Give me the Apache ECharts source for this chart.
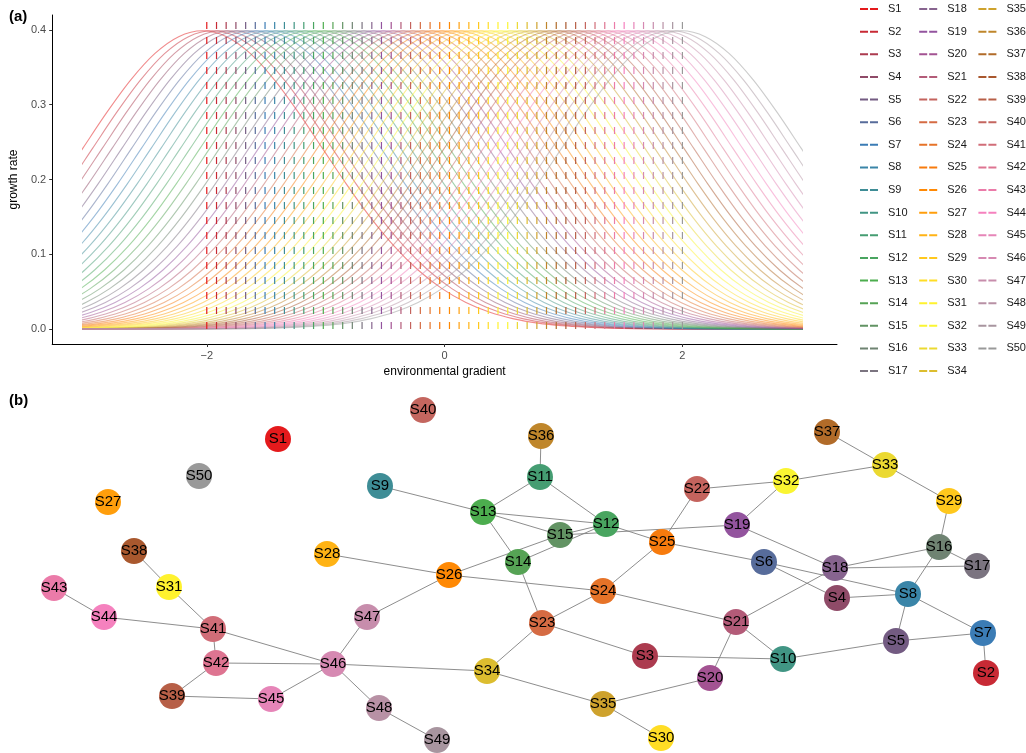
<!DOCTYPE html>
<html>
<head>
<meta charset="utf-8">
<script src="https://cdn.jsdelivr.net/npm/echarts@6/dist/echarts.min.js"></script>
<style>
html, body { margin: 0; padding: 0; background: #fff; }
#chart { width: 1026px; height: 753px; }
</style>
</head>
<body>
<div id="chart"></div>
<script>
// species names
const species = ['S1','S2','S3','S4','S5','S6','S7','S8','S9','S10',
  'S11','S12','S13','S14','S15','S16','S17','S18','S19','S20',
  'S21','S22','S23','S24','S25','S26','S27','S28','S29','S30',
  'S31','S32','S33','S34','S35','S36','S37','S38','S39','S40',
  'S41','S42','S43','S44','S45','S46','S47','S48','S49','S50'];

// optimum of each species along the gradient (dashed lines)
const optima = [-2.000, -1.918, -1.837, -1.755, -1.673, -1.592, -1.510, -1.429, -1.347, -1.265,
  -1.184, -1.102, -1.020, -0.939, -0.857, -0.776, -0.694, -0.612, -0.531, -0.449,
  -0.367, -0.286, -0.204, -0.122, -0.041, 0.041, 0.122, 0.204, 0.286, 0.367,
  0.449, 0.531, 0.612, 0.694, 0.776, 0.857, 0.939, 1.020, 1.102, 1.184,
  1.265, 1.347, 1.429, 1.510, 1.592, 1.673, 1.755, 1.837, 1.918, 2.000];

// growth rate, by distance from the optimum
const profileDist  = [0, 0.2, 0.4, 0.6, 0.8, 1.0, 1.2, 1.4, 1.6, 1.8, 2.0, 2.2, 2.4,
  2.6, 2.8, 3.0, 3.2, 3.4, 3.6, 3.8, 4.0, 4.4, 4.8, 5.2];
const profileValue = [0.3989, 0.3910, 0.3683, 0.3332, 0.2897, 0.2420, 0.1942, 0.1497, 0.1109,
  0.0790, 0.0540, 0.0355, 0.0224, 0.0136, 0.0079, 0.0044, 0.0024, 0.0012, 0.0006,
  0.0003, 0.0001, 0.0000, 0.0000, 0.0000];

// network layout (b): node positions in layout units
const nodeX = [278, 986, 645, 837, 896, 764, 983, 908, 380, 783,
  540, 606, 483, 518, 560, 939, 977, 835, 737, 710,
  736, 697, 542, 603, 662, 449, 108, 327, 949, 661,
  169, 786, 885, 487, 603, 541, 827, 134, 172, 423,
  213, 216, 54, 104, 271, 333, 367, 379, 437, 199];
const nodeY = [314, 80, 97, 155, 112, 191, 120, 159, 267, 94,
  276, 229, 241, 191, 218, 206, 187, 185, 228, 75,
  131, 264, 130, 162, 211, 178, 251, 199, 252, 15,
  166, 272, 288, 82, 49, 317, 321, 202, 57, 343,
  124, 90, 165, 136, 54, 89, 136, 45, 13, 277];

const edges = [
  ['S38','S31'], ['S31','S41'], ['S43','S44'], ['S44','S41'], ['S41','S42'], ['S41','S46'],
  ['S42','S46'], ['S42','S39'], ['S39','S45'], ['S45','S46'], ['S46','S47'], ['S46','S34'],
  ['S46','S48'], ['S48','S49'], ['S47','S26'], ['S28','S26'], ['S26','S15'], ['S26','S24'],
  ['S14','S13'], ['S14','S23'], ['S14','S12'], ['S11','S36'], ['S11','S13'], ['S11','S12'],
  ['S9','S13'], ['S13','S12'], ['S13','S15'], ['S15','S12'], ['S15','S19'], ['S12','S25'],
  ['S25','S22'], ['S25','S24'], ['S25','S6'], ['S22','S32'], ['S32','S19'], ['S32','S33'],
  ['S33','S37'], ['S33','S29'], ['S29','S16'], ['S19','S18'], ['S16','S18'], ['S16','S17'],
  ['S18','S17'], ['S16','S8'], ['S6','S8'], ['S6','S4'], ['S21','S18'], ['S21','S24'],
  ['S21','S10'], ['S21','S20'], ['S20','S35'], ['S3','S10'], ['S23','S3'], ['S23','S24'],
  ['S23','S34'], ['S34','S35'], ['S35','S30'], ['S4','S8'], ['S8','S5'], ['S8','S7'],
  ['S5','S7'], ['S5','S10'], ['S7','S2']
];

// Set1 ramp, 50 steps
const colors = ['#E41A1C','#C82A35','#AC3B4F','#8F4B68','#735B82','#576C9B','#3B7CB5','#3A85A8','#3E8D96','#419584',
  '#459D72','#49A560','#4CAD4E','#56A355','#629363','#6F8372','#7B7480','#87648F','#93549E','#A35392',
  '#B35B78','#C4635D','#D56B43','#E67328','#F77B0D','#FF8904','#FF9E0C','#FFB315','#FFC81D','#FFDD25',
  '#FFF22E','#FAF532','#EBD931','#DCBD2F','#CEA22D','#BF862B','#B16B29','#A9582E','#B75F47','#C4665F',
  '#D16D78','#DE7491','#EB7BA9','#F581BE','#E685B8','#D689B2','#C78DAC','#B891A5','#A8959F','#999999'];

const FONT = '"Liberation Sans", Arial, sans-serif';
const chart = echarts.init(document.getElementById('chart'));

const curveSeries = species.map((name, i) => {
  const pts = [];
  for (let k = profileDist.length - 1; k > 0; k--) pts.push([optima[i] - profileDist[k], profileValue[k]]);
  for (let k = 0; k < profileDist.length; k++) pts.push([optima[i] + profileDist[k], profileValue[k]]);
  return {
    name, type: 'line', xAxisIndex: 1, yAxisIndex: 1, data: pts,
    smooth: 0.3, symbol: 'none', clip: true, silent: true, animation: false,
    color: colors[i], lineStyle: { width: 1.1, opacity: 0.5 }, z: 2
  };
});

const vlineSeries = species.map((name, i) => ({
  name, type: 'line', xAxisIndex: 0, yAxisIndex: 0,
  data: [[optima[i], 0], [optima[i], 0.42]],
  symbol: 'none', silent: true, animation: false,
  color: colors[i], lineStyle: { width: 1.2, type: [7, 8] }, z: 3
}));

const graphSeries = {
  type: 'graph', coordinateSystem: 'cartesian2d', xAxisIndex: 2, yAxisIndex: 2,
  layout: 'none', silent: true, animation: false,
  data: species.map((name, i) => ({ name, value: [nodeX[i], nodeY[i]], itemStyle: { color: colors[i] } })),
  links: edges.map(([s, t]) => ({ source: s, target: t })),
  symbolSize: 26,
  label: { show: true, position: 'inside', color: '#000', fontSize: 15, fontFamily: FONT },
  lineStyle: { color: '#808080', width: 0.9, opacity: 1, curveness: 0 },
  z: 4
};

const option = {
  backgroundColor: '#fff',
  animation: false,
  title: [
    { text: '(a)', left: 9, top: 9, padding: 0, textStyle: { fontSize: 15, fontWeight: 'bold', color: '#000', fontFamily: FONT } },
    { text: '(b)', left: 9, top: 393, padding: 0, textStyle: { fontSize: 15, fontWeight: 'bold', color: '#000', fontFamily: FONT } }
  ],
  legend: {
    data: species.map(name => ({ name, icon: 'path://M0 0H8V2H0Z M10 0H18V2H10Z' })),
    orient: 'vertical', left: 860, top: 2, height: 380,
    itemWidth: 18, itemHeight: 2, itemGap: 8.63, padding: 0,
    selectedMode: false,
    textStyle: { fontSize: 11, color: '#1a1a1a', fontFamily: FONT, lineHeight: 14, padding: [0, 3, 0, 5] }
  },
  grid: [
    { left: 47, top: 15, width: 790, height: 329 },
    { left: 82.9, top: 15, width: 718.2, height: 329 },
    { left: 0, top: 395, width: 1026, height: 358 }
  ],
  xAxis: [
    {
      gridIndex: 0, type: 'value', min: -3.3, max: 3.3,
      name: 'environmental gradient', nameLocation: 'middle', nameGap: 22,
      nameTextStyle: { fontSize: 12, color: '#000', fontFamily: FONT },
      axisLine: { onZero: false, lineStyle: { color: '#000', width: 1 } },
      axisTick: { customValues: [-2, 0, 2], length: 3, lineStyle: { color: '#333' } },
      axisLabel: {
        customValues: [-2, 0, 2], margin: 6, color: '#4d4d4d', fontSize: 11, fontFamily: FONT,
        formatter: v => (v < 0 ? '\u2212' + Math.abs(v) : String(v))
      },
      splitLine: { show: false }
    },
    { gridIndex: 1, type: 'value', min: -3, max: 3, show: false },
    { gridIndex: 2, type: 'value', min: 0, max: 1026, show: false }
  ],
  yAxis: [
    {
      gridIndex: 0, type: 'value', min: -0.02, max: 0.42,
      name: 'growth rate', nameLocation: 'middle', nameGap: 30, nameRotate: 90,
      nameTextStyle: { fontSize: 12, color: '#000', fontFamily: FONT },
      axisLine: { show: true, onZero: false, lineStyle: { color: '#000', width: 1 } },
      axisTick: { show: true, customValues: [0, 0.1, 0.2, 0.3, 0.4], length: 3, lineStyle: { color: '#333' } },
      axisLabel: {
        customValues: [0, 0.1, 0.2, 0.3, 0.4], margin: 6, color: '#4d4d4d', fontSize: 11, fontFamily: FONT,
        formatter: v => v.toFixed(1)
      },
      splitLine: { show: false }
    },
    { gridIndex: 1, type: 'value', min: -0.02, max: 0.42, show: false },
    { gridIndex: 2, type: 'value', min: 0, max: 358, show: false }
  ],
  series: [...curveSeries, ...vlineSeries, graphSeries]
};

chart.setOption(option);
window.addEventListener('resize', chart.resize);
</script>
</body>
</html>
